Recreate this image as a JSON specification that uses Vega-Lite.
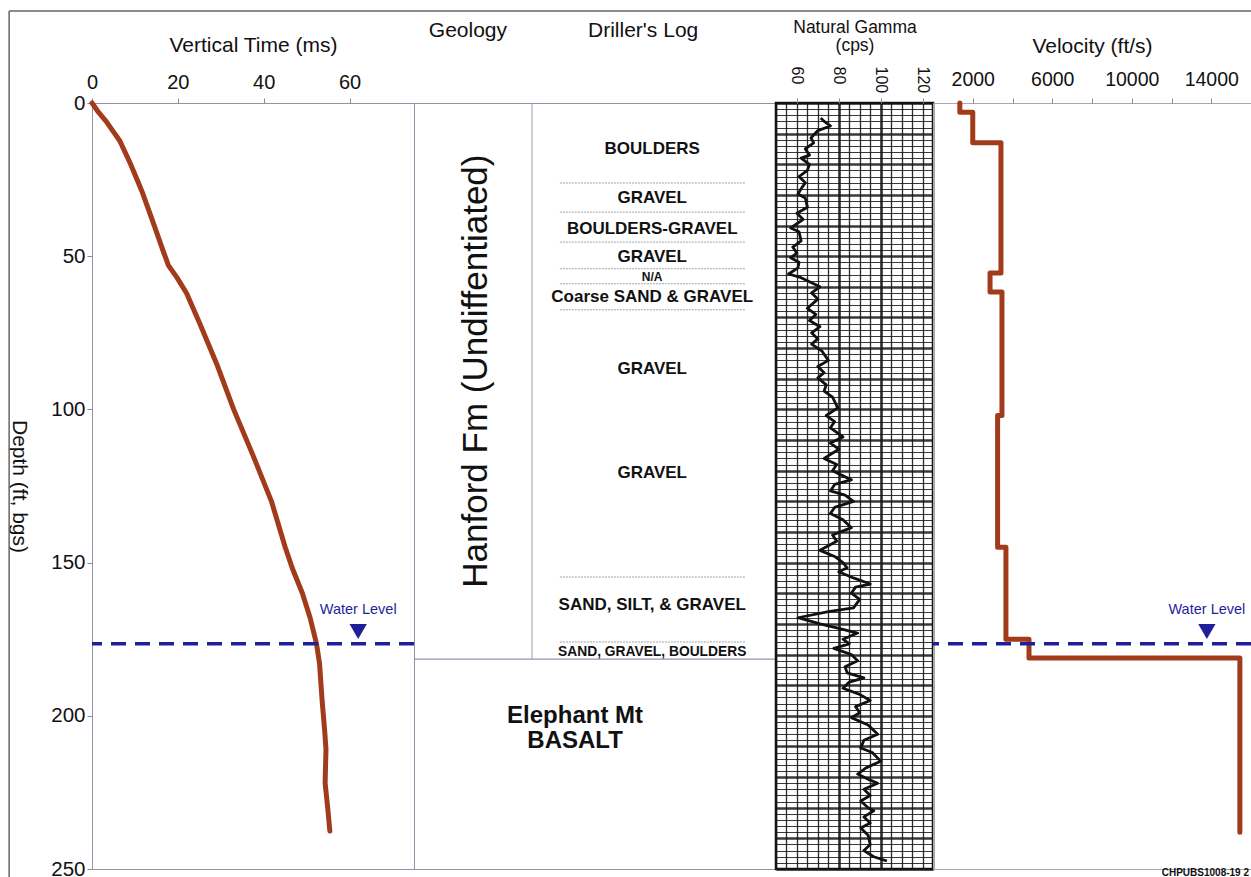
{
"$schema": "https://vega.github.io/schema/vega-lite/v6.json",
"autosize": {"type": "pad"},
"padding": {"left": 7, "top": 9, "right": 0, "bottom": 0},
"background": "white",
"bounds": "flush",
"spacing": 0,
"datasets": {
"time": [
{"depth":0,"t":0},{"depth":3,"t":1.5},{"depth":6,"t":3.3},{"depth":9,"t":4.8},{"depth":12.4,"t":6.5},{"depth":20,"t":9},{"depth":28.7,"t":11.6},{"depth":40,"t":14.5},{"depth":48,"t":16.5},{"depth":53,"t":17.8},{"depth":57,"t":19.8},{"depth":62,"t":22},{"depth":72,"t":25.1},{"depth":85,"t":29},{"depth":100,"t":33},{"depth":115,"t":37.5},{"depth":130,"t":41.8},{"depth":145,"t":45},{"depth":152,"t":46.7},{"depth":160,"t":49},{"depth":168,"t":50.8},{"depth":176.5,"t":52.3},{"depth":183,"t":53},{"depth":195,"t":53.6},{"depth":205,"t":54.2},{"depth":211,"t":54.5},{"depth":216,"t":54.4},{"depth":222,"t":54.3},{"depth":230,"t":54.9},{"depth":237.6,"t":55.4}
],
"gamma": [
{"depth":4.9,"cps":71.4},{"depth":6,"cps":73},{"depth":7.5,"cps":76},{"depth":9,"cps":70},{"depth":11.4,"cps":66.7},{"depth":13,"cps":68},{"depth":15,"cps":64},{"depth":17,"cps":66},{"depth":18,"cps":62},{"depth":20,"cps":66},{"depth":22,"cps":65},{"depth":24,"cps":61},{"depth":26,"cps":64},{"depth":28,"cps":62},{"depth":29.7,"cps":60.5},{"depth":31,"cps":64},{"depth":34,"cps":65},{"depth":36,"cps":60},{"depth":38,"cps":63},{"depth":40.8,"cps":57},{"depth":42,"cps":61},{"depth":45,"cps":62},{"depth":47,"cps":58},{"depth":49,"cps":60},{"depth":50.5,"cps":57},{"depth":52,"cps":61},{"depth":53.8,"cps":60.5},{"depth":55.8,"cps":56},{"depth":57,"cps":62},{"depth":60,"cps":71},{"depth":62,"cps":67},{"depth":64,"cps":70},{"depth":67,"cps":65},{"depth":69,"cps":69},{"depth":71,"cps":66},{"depth":73,"cps":71},{"depth":75,"cps":67},{"depth":77,"cps":70},{"depth":78.7,"cps":67},{"depth":81,"cps":72},{"depth":84,"cps":75},{"depth":86,"cps":70},{"depth":88,"cps":73},{"depth":89.7,"cps":70},{"depth":92,"cps":74},{"depth":94,"cps":73},{"depth":96,"cps":77},{"depth":99.5,"cps":79.5},{"depth":102,"cps":74},{"depth":104,"cps":78},{"depth":106,"cps":76},{"depth":109,"cps":82},{"depth":111,"cps":76},{"depth":113,"cps":80},{"depth":116,"cps":73},{"depth":118,"cps":79},{"depth":120,"cps":77},{"depth":123,"cps":86},{"depth":124.5,"cps":78},{"depth":126.6,"cps":76},{"depth":128,"cps":83},{"depth":130,"cps":87},{"depth":132,"cps":78},{"depth":134,"cps":76},{"depth":136,"cps":82},{"depth":138.6,"cps":86},{"depth":141,"cps":77},{"depth":143,"cps":79},{"depth":146,"cps":71},{"depth":148,"cps":78},{"depth":150,"cps":82},{"depth":151.7,"cps":84},{"depth":153,"cps":80},{"depth":155,"cps":87},{"depth":157,"cps":95},{"depth":158,"cps":88},{"depth":160,"cps":86},{"depth":162,"cps":90},{"depth":164.8,"cps":87},{"depth":166,"cps":75},{"depth":168,"cps":60.5},{"depth":169,"cps":66},{"depth":170,"cps":71},{"depth":171.5,"cps":80},{"depth":173,"cps":89},{"depth":175,"cps":82},{"depth":176.5,"cps":85},{"depth":178,"cps":77.6},{"depth":180,"cps":86},{"depth":182,"cps":89},{"depth":184,"cps":83},{"depth":186,"cps":84},{"depth":187.6,"cps":92},{"depth":189,"cps":85},{"depth":191,"cps":82},{"depth":193,"cps":90},{"depth":195,"cps":95},{"depth":197,"cps":88},{"depth":199,"cps":90},{"depth":200.6,"cps":86},{"depth":203,"cps":94},{"depth":206,"cps":98.6},{"depth":208,"cps":92},{"depth":210.5,"cps":90.5},{"depth":212,"cps":96},{"depth":214.8,"cps":100},{"depth":217,"cps":93},{"depth":219,"cps":89},{"depth":221,"cps":95},{"depth":222,"cps":98.6},{"depth":224,"cps":92},{"depth":226,"cps":95},{"depth":227.8,"cps":90.5},{"depth":230,"cps":94},{"depth":231,"cps":96.7},{"depth":233,"cps":92},{"depth":235,"cps":95},{"depth":236.6,"cps":90.5},{"depth":239,"cps":94},{"depth":242,"cps":95},{"depth":244,"cps":92},{"depth":246,"cps":96.7},{"depth":247.4,"cps":103}
],
"vel": [
{"depth":0,"v":1350},{"depth":3,"v":1350},{"depth":3,"v":2000},{"depth":13,"v":2000},{"depth":13,"v":3420},{"depth":55.5,"v":3420},{"depth":55.5,"v":2870},{"depth":61.7,"v":2870},{"depth":61.7,"v":3470},{"depth":102,"v":3470},{"depth":102,"v":3250},{"depth":145,"v":3250},{"depth":145,"v":3670},{"depth":175,"v":3670},{"depth":175,"v":4830},{"depth":181.1,"v":4830},{"depth":181.1,"v":15440},{"depth":238,"v":15440}
],
"water": [{"depth": 176.5}],
"wlTime": [{"depth": 172.5, "t": 62, "labelDepth": 165.5, "label": "Water Level"}],
"wlVel": [{"depth": 172.5, "v": 13780, "labelDepth": 165.5, "label": "Water Level"}],
"driller": [
{"depth":15,"label":"BOULDERS"},{"depth":31,"label":"GRAVEL"},{"depth":41.1,"label":"BOULDERS-GRAVEL"},{"depth":50.3,"label":"GRAVEL"},{"depth":56.8,"label":"N/A"},{"depth":63.3,"label":"Coarse SAND & GRAVEL"},{"depth":86.8,"label":"GRAVEL"},{"depth":120.8,"label":"GRAVEL"},{"depth":164,"label":"SAND, SILT, & GRAVEL"},{"depth":179.2,"label":"SAND, GRAVEL, BOULDERS"}
],
"dividers": [{"depth":26.1},{"depth":35.6},{"depth":45.4},{"depth":54.1},{"depth":59.0},{"depth":67.5},{"depth":154.7},{"depth":175.9}],
"geology": [{"top": 0, "bottom": 181.5, "name": "Hanford Fm (Undiffentiated)", "labelDepth": 87.5}, {"top": 181.5, "bottom": 250, "name": "Elephant Mt\nBASALT", "labelDepth": 200}]
},
"hconcat": [
{
"width": 322, "height": 766,
"view": {"stroke": "#8f93a8", "strokeWidth": 1},
"layer": [
{"data": {"name": "time"},
 "mark": {"type": "line", "color": "#a23b1c", "strokeWidth": 5, "strokeCap": "round", "strokeJoin": "round"},
 "encoding": {
  "x": {"field": "t", "type": "quantitative", "scale": {"domain": [0, 75], "nice": false, "zero": false},
        "axis": {"orient": "top", "title": "Vertical Time (ms)", "values": [0, 20, 40, 60], "labelFlush": false, "domain": false, "grid": false, "tickSize": 5, "labelPadding": 6, "labelFontSize": 20, "titleFontSize": 21, "titlePadding": 17}},
  "y": {"field": "depth", "type": "quantitative", "scale": {"domain": [0, 250], "reverse": true, "nice": false, "zero": false},
        "axis": {"orient": "left", "title": "Depth (ft, bgs)", "values": [0, 50, 100, 150, 200, 250], "domain": false, "grid": false, "tickSize": 5, "labelPadding": 2, "labelFontSize": 20.5, "titleFontSize": 21, "titleAngle": 90, "titleBaseline": "top", "titlePadding": 21}},
  "order": {"value": null}
 }},
{"data": {"name": "water"},
 "mark": {"type": "rule", "color": "#1f1f9a", "strokeWidth": 3.5, "strokeDash": [15, 9]},
 "encoding": {"y": {"field": "depth", "type": "quantitative"}}},
{"data": {"name": "wlTime"},
 "mark": {"type": "point", "shape": "triangle-down", "filled": true, "color": "#1f1f9a", "size": 300, "opacity": 1},
 "encoding": {"x": {"field": "t", "type": "quantitative"}, "y": {"field": "depth", "type": "quantitative"}}},
{"data": {"name": "wlTime"},
 "mark": {"type": "text", "color": "#1f1f9a", "fontSize": 14.5, "baseline": "middle", "align": "center"},
 "encoding": {"x": {"field": "t", "type": "quantitative"}, "y": {"field": "labelDepth", "type": "quantitative"}, "text": {"field": "label"}}},
{"data": {"values": [{"edge": "frame"}]},
 "mark": {"type": "rule", "color": "#666666", "strokeWidth": 1.5},
 "encoding": {"x": {"datum": -19.3}, "y": {"datum": -30}, "y2": {"datum": 256}}},
{"data": {"values": [{"edge": "frame"}]},
 "mark": {"type": "rule", "color": "#666666", "strokeWidth": 1.5},
 "encoding": {"x": {"datum": -19.3}, "x2": {"datum": 271}, "y": {"datum": -30}}}
]
},
{
"width": 362, "height": 766,
"view": {"stroke": "#8f93a8", "strokeWidth": 1},
"layer": [
{"data": {"name": "geology"},
 "transform": [{"filter": "datum.top == 0"}],
 "mark": {"type": "rule", "color": "#9a9cb0", "strokeWidth": 1},
 "encoding": {
  "x": {"datum": 32.6, "type": "quantitative", "scale": {"domain": [0, 100], "nice": false, "zero": false}, "axis": null},
  "y": {"field": "top", "type": "quantitative", "scale": {"domain": [0, 250], "reverse": true, "nice": false, "zero": false}, "axis": null},
  "y2": {"field": "bottom"}
 }},
{"data": {"name": "geology"},
 "transform": [{"filter": "datum.top > 0"}],
 "mark": {"type": "rule", "color": "#8f93a8", "strokeWidth": 1.2},
 "encoding": {"y": {"field": "top", "type": "quantitative"}}},
{"data": {"name": "dividers"},
 "mark": {"type": "rule", "color": "#a0a0a0", "strokeWidth": 1, "strokeDash": [2, 1]},
 "encoding": {"x": {"datum": 40.3}, "x2": {"datum": 91.4}, "y": {"field": "depth", "type": "quantitative"}}},
{"data": {"name": "driller"},
 "transform": [{"filter": "datum.label != 'N/A' && datum.label != 'SAND, GRAVEL, BOULDERS'"}],
 "mark": {"type": "text", "fontSize": 17, "fontWeight": "bold", "color": "#111", "align": "center", "baseline": "middle"},
 "encoding": {"x": {"datum": 65.8}, "y": {"field": "depth", "type": "quantitative"}, "text": {"field": "label"}}},
{"data": {"name": "driller"},
 "transform": [{"filter": "datum.label == 'SAND, GRAVEL, BOULDERS'"}],
 "mark": {"type": "text", "fontSize": 13.8, "fontWeight": "bold", "color": "#111", "align": "center", "baseline": "middle"},
 "encoding": {"x": {"datum": 65.8}, "y": {"field": "depth", "type": "quantitative"}, "text": {"field": "label"}}},
{"data": {"name": "driller"},
 "transform": [{"filter": "datum.label == 'N/A'"}],
 "mark": {"type": "text", "fontSize": 12, "fontWeight": "bold", "color": "#111", "align": "center", "baseline": "middle"},
 "encoding": {"x": {"datum": 65.8}, "y": {"field": "depth", "type": "quantitative"}, "text": {"field": "label"}}},
{"data": {"name": "geology"},
 "transform": [{"filter": "datum.top == 0"}],
 "mark": {"type": "text", "fontSize": 35, "angle": 270, "color": "#111", "align": "center", "baseline": "middle"},
 "encoding": {"x": {"datum": 17.1}, "y": {"field": "labelDepth", "type": "quantitative"}, "text": {"field": "name"}}},
{"data": {"name": "geology"},
 "transform": [{"filter": "datum.top > 0"}],
 "mark": {"type": "text", "fontSize": 24, "fontWeight": "bold", "color": "#111", "align": "center", "baseline": "middle", "lineBreak": "\n", "lineHeight": 25},
 "encoding": {"x": {"datum": 44.5}, "y": {"field": "labelDepth", "type": "quantitative"}, "text": {"field": "name"}}},
{"data": {"values": [{"header": "Geology", "pos": 14.9}, {"header": "Driller's Log", "pos": 63.3}]},
 "mark": {"type": "text", "fontSize": 21, "color": "#111", "align": "center", "baseline": "middle"},
 "encoding": {"x": {"field": "pos", "type": "quantitative"}, "y": {"datum": -23.5}, "text": {"field": "header"}}}
]
},
{
"width": 157, "height": 766,
"view": {"stroke": "#111111", "strokeWidth": 2.5},
"data": {"name": "gamma"},
"mark": {"type": "line", "color": "#111111", "strokeWidth": 2.8, "strokeJoin": "round"},
"encoding": {
 "x": {"field": "cps", "type": "quantitative", "scale": {"domain": [50, 125], "nice": false, "zero": false},
       "axis": {"orient": "top", "title": ["Natural Gamma", "(cps)"], "titleFontSize": 17.5, "titleLineHeight": 18, "titlePadding": 12,
                "values": [50, 55, 60, 65, 70, 75, 80, 85, 90, 95, 100, 105, 110, 115, 120, 125],
                "labelExpr": "datum.value >= 60 && datum.value % 20 == 0 ? datum.label : ''",
                "labelAngle": 90, "labelAlign": "left", "labelBaseline": "middle", "labelPadding": 32, "labelFontSize": 16, "labelOverlap": false, "labelFlush": false,
                "tickSize": 5, "tickOpacity": {"condition": {"test": "datum.value >= 60 && datum.value % 20 == 0", "value": 1}, "value": 0},
                "domain": false, "grid": true, "gridColor": "#151515", "gridOpacity": 0.9,
                "gridWidth": {"condition": {"test": "datum.value == 80 || datum.value == 100", "value": 2.6}, "value": 1.3}}},
 "y": {"field": "depth", "type": "quantitative", "scale": {"domain": [0, 250], "reverse": true, "nice": false, "zero": false},
       "axis": {"orient": "left", "title": null, "labels": false, "ticks": false, "domain": false, "grid": true, "gridColor": "#151515", "gridOpacity": 0.85,
                "gridWidth": {"condition": {"test": "datum.value % 10 == 0", "value": 2.4}, "value": 1.1},
                "values": [0,2,4,6,8,10,12,14,16,18,20,22,24,26,28,30,32,34,36,38,40,42,44,46,48,50,52,54,56,58,60,62,64,66,68,70,72,74,76,78,80,82,84,86,88,90,92,94,96,98,100,102,104,106,108,110,112,114,116,118,120,122,124,126,128,130,132,134,136,138,140,142,144,146,148,150,152,154,156,158,160,162,164,166,168,170,172,174,176,178,180,182,184,186,188,190,192,194,196,198,200,202,204,206,208,210,212,214,216,218,220,222,224,226,228,230,232,234,236,238,240,242,244,246,248,250]}},
 "order": {"value": null}
}
},
{
"width": 318, "height": 766,
"view": {"stroke": "#a8a8b4", "strokeWidth": 1},
"layer": [
{"data": {"name": "vel"},
 "mark": {"type": "line", "color": "#a23b1c", "strokeWidth": 5, "strokeCap": "round", "strokeJoin": "round"},
 "encoding": {
  "x": {"field": "v", "type": "quantitative", "scale": {"domain": [0, 16000], "nice": false, "zero": false},
        "axis": {"orient": "top", "title": "Velocity (ft/s)", "values": [2000, 4000, 6000, 8000, 10000, 12000, 14000], "format": "d",
                 "labelExpr": "datum.value % 4000 == 2000 ? datum.label : ''", "labelFlush": false, "labelOverlap": false,
                 "domain": false, "grid": false, "tickSize": 5, "labelPadding": 9, "labelFontSize": 19.5, "titleFontSize": 21, "titlePadding": 13}},
  "y": {"field": "depth", "type": "quantitative", "scale": {"domain": [0, 250], "reverse": true, "nice": false, "zero": false}, "axis": null},
  "order": {"value": null}
 }},
{"data": {"name": "water"},
 "mark": {"type": "rule", "color": "#1f1f9a", "strokeWidth": 3.5, "strokeDash": [15, 9]},
 "encoding": {"y": {"field": "depth", "type": "quantitative"}}},
{"data": {"name": "wlVel"},
 "mark": {"type": "point", "shape": "triangle-down", "filled": true, "color": "#1f1f9a", "size": 300, "opacity": 1},
 "encoding": {"x": {"field": "v", "type": "quantitative"}, "y": {"field": "depth", "type": "quantitative"}}},
{"data": {"name": "wlVel"},
 "mark": {"type": "text", "color": "#1f1f9a", "fontSize": 14.5, "baseline": "middle", "align": "center"},
 "encoding": {"x": {"field": "v", "type": "quantitative"}, "y": {"field": "labelDepth", "type": "quantitative"}, "text": {"field": "label"}}},
{"data": {"values": [{"id": "CHPUBS1008-19 2"}]},
 "mark": {"type": "text", "fontSize": 10, "fontWeight": "bold", "color": "#111", "align": "right", "baseline": "middle"},
 "encoding": {"x": {"datum": 15900}, "y": {"datum": 251.3}, "text": {"field": "id"}}}
]
}
],
"config": {
 "font": "Liberation Sans",
 "axis": {"labelFont": "Liberation Sans", "titleFont": "Liberation Sans", "labelColor": "#111111", "titleColor": "#111111", "titleFontWeight": "normal", "tickColor": "#8a8a8a", "domainColor": "#aaaaaa"},
 "text": {"font": "Liberation Sans"},
 "view": {"stroke": null}
}
}
